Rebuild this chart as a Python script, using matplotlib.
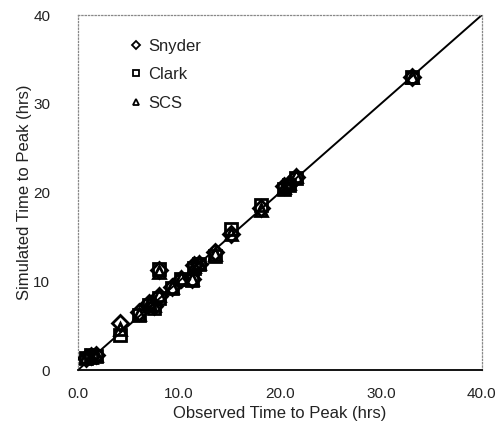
import matplotlib
matplotlib.use('Agg')
import matplotlib.pyplot as plt

# observed vs simulated time to peak (hrs)
observed = [0.8, 1.3, 1.8, 4.2, 6.0, 7.0, 7.5, 8.0, 8.0, 9.3, 10.2, 11.3, 11.5, 12.0, 13.6, 15.2, 18.1, 20.4, 20.9, 21.6, 33.1]
snyder = [1.4, 1.6, 1.7, 5.3, 6.5, 7.6, 7.2, 8.3, 11.3, 9.3, 10.3, 10.2, 11.8, 12.0, 13.3, 15.3, 18.3, 20.7, 21.0, 21.8, 33.0]
clark = [1.3, 1.7, 1.6, 4.0, 6.2, 7.3, 7.0, 8.1, 11.4, 9.2, 10.2, 10.1, 11.5, 11.9, 12.9, 15.9, 18.6, 20.4, 20.8, 21.6, 33.0]
scs = [1.5, 1.5, 1.7, 4.6, 6.3, 7.5, 7.3, 8.4, 11.1, 9.4, 10.4, 10.3, 11.7, 12.1, 13.1, 15.3, 18.0, 20.6, 21.1, 21.9, 33.0]

x_ticks = [0, 10, 20, 30, 40]
x_labels = ['0.0', '10.0', '20.0', '30.0', '40.0']
y_ticks = [0, 10, 20, 30, 40]

plt.rcParams['font.family'] = ['Liberation Sans', 'DejaVu Sans']
txt = '#222222'

fig = plt.figure(figsize=(5.03, 4.29), dpi=100)
ax = fig.add_axes([0.155, 0.1375, 0.803, 0.8275])

ax.plot([0, 40], [0, 40], color='black', lw=1.4, zorder=1)

ms = 9
ax.plot(observed, snyder, 'D', ms=ms * 0.85, mfc='none', mec='black', mew=2.0, ls='none', label='Snyder', zorder=3)
ax.plot(observed, clark, 's', ms=ms, mfc='none', mec='black', mew=2.0, ls='none', label='Clark', zorder=3)
ax.plot(observed, scs, '^', ms=ms, mfc='none', mec='black', mew=2.0, ls='none', label='SCS', zorder=3)

ax.set_xlim(0, 40)
ax.set_ylim(0, 40)
ax.set_xticks(x_ticks)
ax.set_xticklabels(x_labels)
ax.set_yticks(y_ticks)
ax.tick_params(length=0, labelsize=11, labelcolor=txt)
ax.tick_params(axis='x', pad=12)
ax.tick_params(axis='y', pad=20)

for s in ['top', 'right', 'left']:
    ax.spines[s].set_color('#888888')
    ax.spines[s].set_linestyle(':')
    ax.spines[s].set_linewidth(0.9)
ax.spines['bottom'].set_linewidth(1.3)

ax.set_xlabel('Observed Time to Peak (hrs)', fontsize=12, labelpad=4, color=txt)
ax.set_ylabel('Simulated Time to Peak (hrs)', fontsize=12, labelpad=1, color=txt)

leg = ax.legend(loc='upper left', bbox_to_anchor=(0.095, 0.975), frameon=False,
                handlelength=0.6, handletextpad=0.4, labelspacing=0.8,
                markerscale=0.55, fontsize=12, labelcolor=txt)
for h in leg.legend_handles:
    h.set_markeredgewidth(1.3)

fig.savefig('out.png', dpi=100)
